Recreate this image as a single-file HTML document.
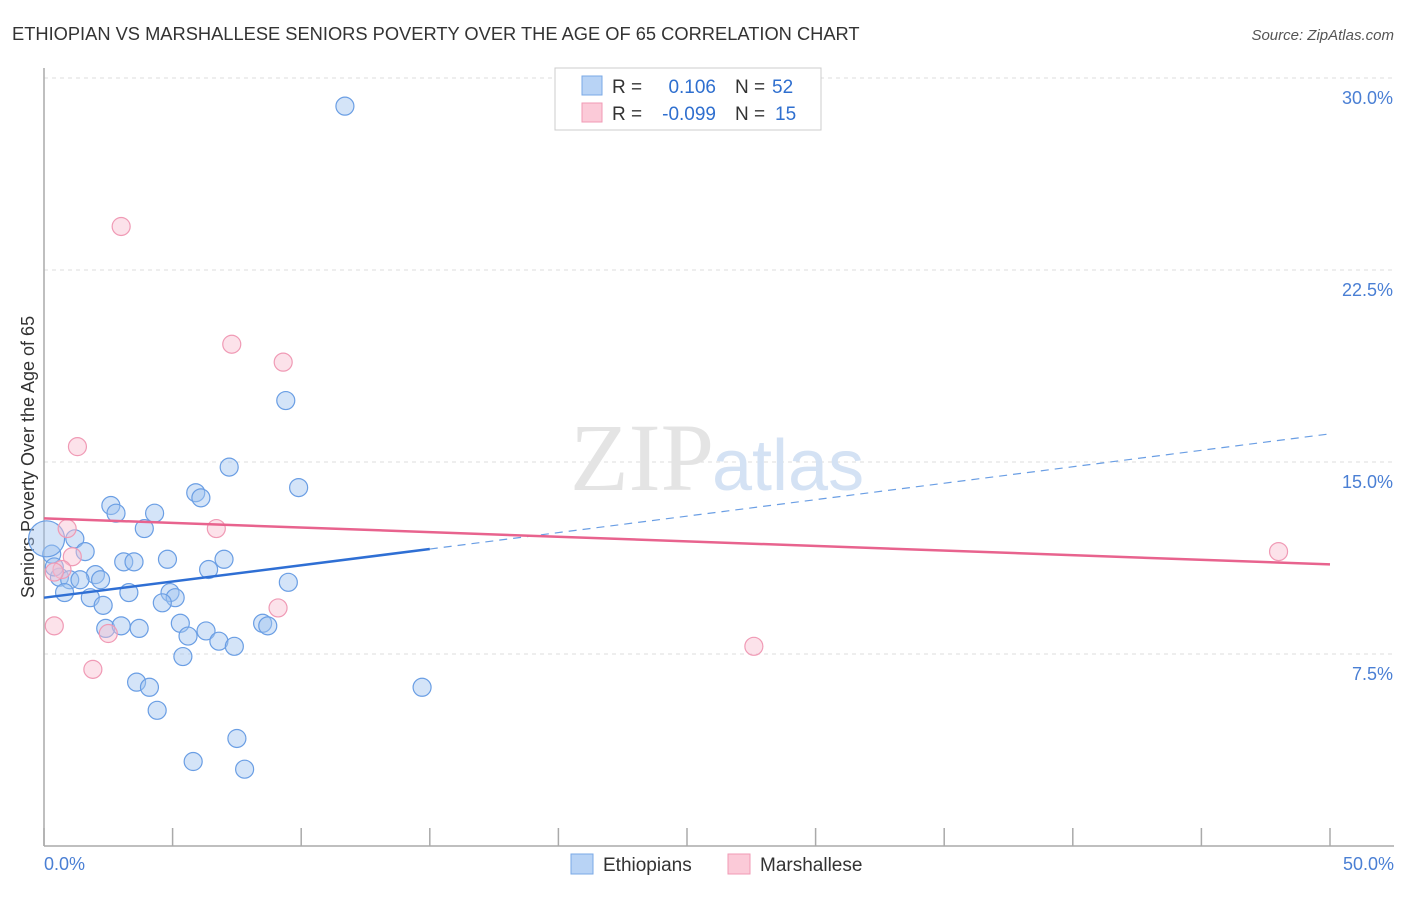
<!DOCTYPE html>
<html><head><meta charset="utf-8"><style>
body{margin:0;background:#fff;font-family:"Liberation Sans",sans-serif;}
</style></head><body>
<svg id="chart" width="1406" height="892" xmlns="http://www.w3.org/2000/svg" font-family="Liberation Sans, sans-serif">
<text x="12" y="40" font-size="18.3" fill="#333">ETHIOPIAN VS MARSHALLESE SENIORS POVERTY OVER THE AGE OF 65 CORRELATION CHART</text>
<text x="1394" y="40" font-size="15" fill="#555" text-anchor="end" font-style="italic">Source: ZipAtlas.com</text>
<g id="grid"></g>
<text x="714" y="490" font-size="96" fill="#e4e4e4" text-anchor="end" font-family="Liberation Serif, serif">ZIP</text>
<text x="712" y="490" font-size="72" fill="#d4e2f4">atlas</text>
<line x1="44" y1="68" x2="44" y2="846" stroke="#aaa" stroke-width="1.5"/>
<line x1="44" y1="846" x2="1394" y2="846" stroke="#aaa" stroke-width="1.5"/>
<g id="xticks"></g>
<text transform="translate(34,457) rotate(-90)" font-size="18" fill="#333" text-anchor="middle">Seniors Poverty Over the Age of 65</text>
<text x="44" y="870" font-size="18" fill="#4a7fd4">0.0%</text>
<text x="1394" y="870" font-size="18" fill="#4a7fd4" text-anchor="end">50.0%</text>
<g id="points"></g>
<g id="trends"></g>
<g>
<rect x="555" y="68" width="266" height="62" fill="#fff" stroke="#ccc"/>
<rect x="582" y="76" width="20" height="19" fill="#b8d3f5" stroke="#7aa8e6"/>
<rect x="582" y="103" width="20" height="19" fill="#fbcad8" stroke="#f09ab5"/>
<text x="612" y="93" font-size="19" fill="#333">R =</text>
<text x="716" y="93" font-size="19" fill="#2f6fcf" text-anchor="end">0.106</text>
<text x="735" y="93" font-size="19" fill="#333">N =</text>
<text x="772" y="93" font-size="19" fill="#2f6fcf">52</text>
<text x="612" y="120" font-size="19" fill="#333">R =</text>
<text x="716" y="120" font-size="19" fill="#2f6fcf" text-anchor="end">-0.099</text>
<text x="735" y="120" font-size="19" fill="#333">N =</text>
<text x="775" y="120" font-size="19" fill="#2f6fcf">15</text>
</g>
<g>
<rect x="571" y="854" width="22" height="20" fill="#b8d3f5" stroke="#7aa8e6"/>
<text x="603" y="871" font-size="19" fill="#333">Ethiopians</text>
<rect x="728" y="854" width="22" height="20" fill="#fbcad8" stroke="#f09ab5"/>
<text x="760" y="871" font-size="19" fill="#333">Marshallese</text>
</g>
</svg>
<script>
const yTicks=[7.5,15,22.5,30];
const yTickLabels=["7.5%","15.0%","22.5%","30.0%"];
const xTicks=[0,5,10,15,20,25,30,35,40,45,50];
const ethX=[11.7,9.4,7.2,9.9,5.9,6.1,2.6,2.8,4.3,3.9,1.2,0.3,1.6,4.8,7.0,3.1,3.5,6.4,2.0,0.6,1.0,1.4,2.2,9.5,0.8,1.8,3.3,4.9,5.1,2.3,4.6,5.3,8.5,8.7,2.4,3.0,3.7,5.6,6.3,6.8,7.4,5.4,3.6,4.1,14.7,4.4,7.5,5.8,7.8,0.1,0.4];
const ethY=[28.9,17.4,14.8,14.0,13.8,13.6,13.3,13.0,13.0,12.4,12.0,11.4,11.5,11.2,11.2,11.1,11.1,10.8,10.6,10.5,10.4,10.4,10.4,10.3,9.9,9.7,9.9,9.9,9.7,9.4,9.5,8.7,8.7,8.6,8.5,8.6,8.5,8.2,8.4,8.0,7.8,7.4,6.4,6.2,6.2,5.3,4.2,3.3,3.0,12.0,10.9];
const ethR=[9,9,9,9,9,9,9,9,9,9,9,9,9,9,9,9,9,9,9,9,9,9,9,9,9,9,9,9,9,9,9,9,9,9,9,9,9,9,9,9,9,9,9,9,9,9,9,9,9,18,9];
const marX=[3.0,7.3,9.3,1.3,0.9,6.7,1.1,0.7,0.4,9.1,0.4,2.5,1.9,27.6,48.0];
const marY=[24.2,19.6,18.9,15.6,12.4,12.4,11.3,10.8,10.7,9.3,8.6,8.3,6.9,7.8,11.5];
const ethTrend=[[0,9.7],[15,11.6],[50,16.1]];
const marTrend=[[0,12.8],[50,11.0]];
const X=v=>44+v*25.72, Y=v=>846-v*25.6;
const NS="http://www.w3.org/2000/svg";
function mk(t,a,p){const e=document.createElementNS(NS,t);for(const k in a)e.setAttribute(k,a[k]);document.getElementById(p).appendChild(e);return e;}
yTicks.forEach((t,i)=>{
 const l=mk('line',{x1:44,x2:1394,y1:Y(t),y2:Y(t),stroke:'#ddd','stroke-dasharray':'4,4'},'grid');
 
 
 const tx=mk('text',{x:1393,y:Y(t)+26,'font-size':18,fill:'#4a7fd4','text-anchor':'end'},'grid');
 tx.textContent=yTickLabels[i];
 
 
});
xTicks.forEach(t=>{
 const l=mk('line',{x1:X(t),x2:X(t),y1:828,y2:846,stroke:'#aaa','stroke-width':1.5},'xticks');
 
 
});
ethX.forEach((x,i)=>{
 const c=mk('circle',{cx:X(x),cy:Y(ethY[i]),r:ethR[i],fill:'rgba(160,196,240,0.45)',stroke:'#6a9ee4','stroke-width':1.2},'points');
 
 
});
marX.forEach((x,i)=>{
 const c=mk('circle',{cx:X(x),cy:Y(marY[i]),r:9,fill:'rgba(248,190,208,0.45)',stroke:'#f09ab5','stroke-width':1.2},'points');
 
 
});
let l1=mk('line',{x1:X(ethTrend[0][0]),y1:Y(ethTrend[0][1]),x2:X(ethTrend[1][0]),y2:Y(ethTrend[1][1]),stroke:'#2f6fd4','stroke-width':2.5},'trends');


let l2=mk('line',{x1:X(ethTrend[1][0]),y1:Y(ethTrend[1][1]),x2:X(ethTrend[2][0]),y2:Y(ethTrend[2][1]),stroke:'#6a9ee4','stroke-width':1.2,'stroke-dasharray':'8,6'},'trends');


let l3=mk('line',{x1:X(marTrend[0][0]),y1:Y(marTrend[0][1]),x2:X(marTrend[1][0]),y2:Y(marTrend[1][1]),stroke:'#e8638e','stroke-width':2.5},'trends');


</script>
</body></html>
